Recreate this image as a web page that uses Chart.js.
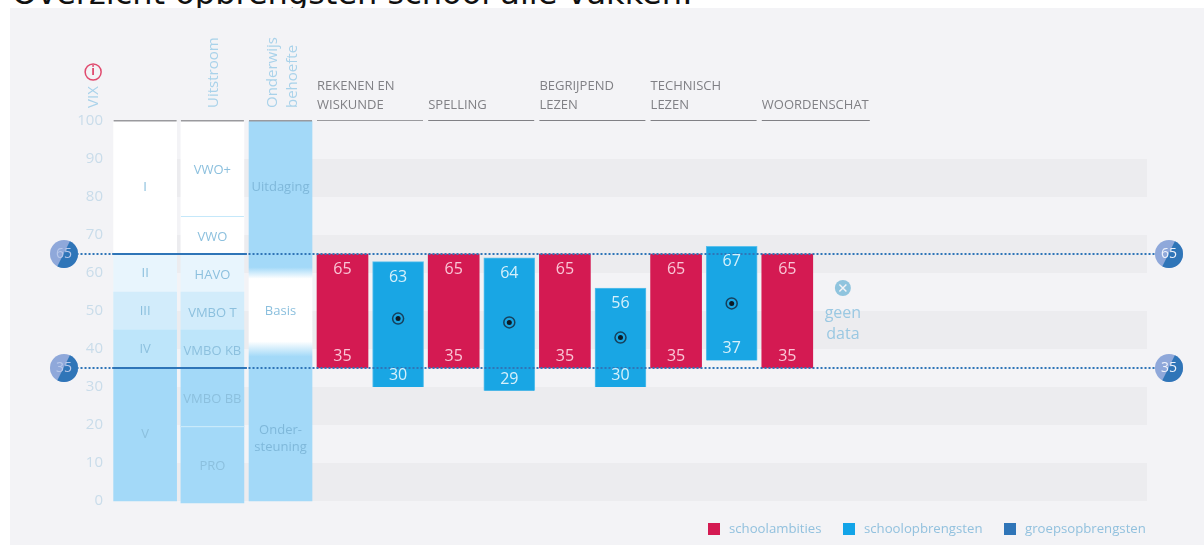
<!DOCTYPE html>
<html lang="nl">
<head>
<meta charset="utf-8">
<title>Overzicht opbrengsten school alle vakken</title>
<style>
  html, body { margin: 0; padding: 0; background: #fff; overflow: hidden; }
  #title {
    position: absolute; left: 12px; top: -26px; white-space: nowrap;
    font: 32px "DejaVu Sans", sans-serif; color: #111; z-index: 0;
  }
  #panel {
    position: absolute; left: 10px; top: 8px; width: 1194px; height: 537px;
    background: #f3f3f6; z-index: 1;
  }
  #wrap { position: absolute; left: 0; top: 0; width: 1204px; height: 545px; z-index: 2; }
</style>
<script src="https://cdn.jsdelivr.net/npm/chart.js@4"></script>
</head>
<body>
<div id="title">Overzicht opbrengsten school alle vakken:</div>
<div id="panel"></div>
<div id="wrap"><canvas id="chart"></canvas></div>
<script>
// ---------------------------------------------------------------------------
// Data
// ---------------------------------------------------------------------------

const yTicks = [0, 10, 20, 30, 40, 50, 60, 70, 80, 90, 100];
const stripeRanges = [[0, 10], [20, 30], [40, 50], [60, 70], [80, 90]];

const vixLabels = ['I', 'II', 'III', 'IV', 'V'];
const vixRanges = [[65, 100], [55, 65], [45, 55], [35, 45], [0, 35]];

const uitstroomLabels = ['VWO+', 'VWO', 'HAVO', 'VMBO T', 'VMBO KB', 'VMBO BB', 'PRO'];
const uitstroomRanges = [[75, 100], [65, 75], [55, 65], [45, 55], [35, 45], [19.7, 35], [-0.5, 19.7]];

const behoefteLabels = [['Uitdaging'], ['Basis'], ['Onder-', 'steuning']];
const behoefteValues = [82.5, 50, 16.4];

const subjects = [
  ['REKENEN EN', 'WISKUNDE'],
  ['SPELLING'],
  ['BEGRIJPEND', 'LEZEN'],
  ['TECHNISCH', 'LEZEN'],
  ['WOORDENSCHAT']
];
const ambitieLow  = [35, 35, 35, 35, 35];
const ambitieHigh = [65, 65, 65, 65, 65];
const opbrengstLow  = [30, 29, 30, 37, null];
const opbrengstHigh = [63, 64, 56, 67, null];
const opbrengstMid  = [48, 47, 43, 52, null];
const groupLines = [65, 35];

// ---------------------------------------------------------------------------
// Colors and layout (x scale unit = one bar slot, first subject bar is slot 0)
// ---------------------------------------------------------------------------

const FONT = '"Open Sans", sans-serif';
const RED = '#d41a52';
const BLUE = '#19a6e4';
const GROUP = '#2f75b8';
const COL_BLUE = '#a3d9f8';
const TEXT_BLUE = '#8cc0de';
const columnSlots = [-3.55, -2.34, -1.115];
const COLUMN_W = 63;
const BAR_W = 51;
const vixColors = ['#ffffff', '#e8f5fd', '#d2ecfb', '#bde5fa', COL_BLUE];
const uitstroomColors = ['#ffffff', '#ffffff', '#e8f5fd', '#d2ecfb', '#bde5fa', COL_BLUE, COL_BLUE];
const legendItems = [
  ['schoolambities', RED, 708],
  ['schoolopbrengsten', '#12a4e8', 843],
  ['groepsopbrengsten', GROUP, 1004]
];

function text(ctx, str, x, y, font, color, align) {
  ctx.font = font;
  ctx.fillStyle = color;
  ctx.textAlign = align || 'center';
  ctx.textBaseline = 'middle';
  ctx.fillText(str, x, y);
}

function rotatedText(ctx, str, x, yBottom, color) {
  ctx.save();
  ctx.translate(x, yBottom);
  ctx.rotate(-Math.PI / 2);
  text(ctx, str, 0, 0, '15px ' + FONT, color, 'left');
  ctx.restore();
}

// half light, half dark marker on the ends of the group lines
function groupBadge(ctx, x, y, label, labelColor) {
  const r = 14;
  ctx.save();
  ctx.beginPath();
  ctx.arc(x, y, r, 0, Math.PI * 2);
  ctx.clip();
  ctx.fillStyle = '#8fa8da';
  ctx.fillRect(x - r, y - r, r * 2, r * 2);
  ctx.fillStyle = GROUP;
  ctx.beginPath();
  ctx.moveTo(x + 7, y - r - 1);
  ctx.lineTo(x + r + 1, y - r - 1);
  ctx.lineTo(x + r + 1, y + r + 1);
  ctx.lineTo(x - 8, y + r + 1);
  ctx.closePath();
  ctx.fill();
  ctx.restore();
  text(ctx, label, x, y, '14px ' + FONT, labelColor);
}

// ---------------------------------------------------------------------------
// Plugins
// ---------------------------------------------------------------------------

const stripesPlugin = {
  id: 'stripes',
  beforeDatasetsDraw(chart) {
    const { ctx, chartArea, scales: { y } } = chart;
    ctx.fillStyle = '#ececef';
    stripeRanges.forEach(r => {
      ctx.fillRect(chartArea.left, y.getPixelForValue(r[1]), chartArea.width, y.getPixelForValue(r[0]) - y.getPixelForValue(r[1]));
    });
  }
};

const labelsPlugin = {
  id: 'labels',
  afterDatasetsDraw(chart) {
    const { ctx, scales: { x, y } } = chart;
    ctx.save();

    // grey rule on top of the columns and the subject headers
    ctx.fillStyle = '#9a9a9e';
    const top = y.getPixelForValue(100);
    columnSlots.forEach(s => ctx.fillRect(x.getPixelForValue(s) - COLUMN_W / 2, top - 1, COLUMN_W, 1.5));
    subjects.forEach((lines, i) => {
      const left = x.getPixelForValue(i * 2) - BAR_W / 2;
      const w = i === 4 ? 108 : 106;
      ctx.fillRect(left, top - 1, w, 1);
      lines.forEach((l, j) => {
        text(ctx, l, left, top - 16 - (lines.length - 1 - j) * 18.5, '13px ' + FONT, '#808085', 'left');
      });
    });

    // dividers inside the uitstroom column
    ctx.fillStyle = '#c5e8fa';
    ctx.fillRect(x.getPixelForValue(columnSlots[1]) - COLUMN_W / 2, y.getPixelForValue(75), COLUMN_W, 1);
    ctx.fillStyle = '#d0edfb';
    ctx.fillRect(x.getPixelForValue(columnSlots[1]) - COLUMN_W / 2, y.getPixelForValue(19.7), COLUMN_W, 1);

    // column captions
    const small = '13px ' + FONT;
    vixLabels.forEach((l, i) => {
      text(ctx, l, x.getPixelForValue(columnSlots[0]), y.getPixelForValue((vixRanges[i][0] + vixRanges[i][1]) / 2), small, TEXT_BLUE);
    });
    uitstroomLabels.forEach((l, i) => {
      text(ctx, l, x.getPixelForValue(columnSlots[1]), y.getPixelForValue((uitstroomRanges[i][0] + uitstroomRanges[i][1]) / 2) + 2, small, TEXT_BLUE);
    });
    behoefteLabels.forEach((lines, i) => {
      lines.forEach((l, j) => {
        const py = y.getPixelForValue(behoefteValues[i]) + (j - (lines.length - 1) / 2) * 17;
        text(ctx, l, x.getPixelForValue(columnSlots[2]), py, small, i === 1 ? '#8cc0de' : '#7fb8da');
      });
    });

    // vertical headers
    rotatedText(ctx, 'VIX', x.getPixelForValue(columnSlots[0]) - 51, 108, '#a9d2ea');
    rotatedText(ctx, 'Uitstroom', x.getPixelForValue(columnSlots[1]) + 1, 108, '#a9d2ea');
    rotatedText(ctx, 'Onderwijs', x.getPixelForValue(columnSlots[2]) - 8, 108, '#a9d2ea');
    rotatedText(ctx, 'behoefte', x.getPixelForValue(columnSlots[2]) + 12, 108, '#a9d2ea');

    // info icon above VIX
    const ix = x.getPixelForValue(columnSlots[0]) - 52;
    ctx.strokeStyle = '#e04a6e';
    ctx.lineWidth = 1.5;
    ctx.beginPath();
    ctx.arc(ix, 72, 8, 0, Math.PI * 2);
    ctx.stroke();
    text(ctx, 'i', ix, 72, 'bold 12px ' + FONT, '#e04a6e');

    // values inside the bars
    [0, 1].forEach(d => {
      chart.getDatasetMeta(d + 3).data.forEach((el, i) => {
        const low = d === 0 ? ambitieLow[i] : opbrengstLow[i];
        const high = d === 0 ? ambitieHigh[i] : opbrengstHigh[i];
        if (low === null) return;
        const color = d === 0 ? '#f9c6d6' : '#d6f0fb';
        text(ctx, String(high), el.x, y.getPixelForValue(high) + 15.5, '16px ' + FONT, color);
        text(ctx, String(low), el.x, y.getPixelForValue(low) - 11.5, '16px ' + FONT, color);
      });
    });

    // no data marker for the last subject
    const gx = x.getPixelForValue(9);
    const gy = 288;
    ctx.fillStyle = '#8fc4de';
    ctx.beginPath();
    ctx.arc(gx, gy, 8, 0, Math.PI * 2);
    ctx.fill();
    ctx.strokeStyle = '#f3f3f6';
    ctx.lineWidth = 1.5;
    ctx.beginPath();
    ctx.moveTo(gx - 3.5, gy - 3.5); ctx.lineTo(gx + 3.5, gy + 3.5);
    ctx.moveTo(gx + 3.5, gy - 3.5); ctx.lineTo(gx - 3.5, gy + 3.5);
    ctx.stroke();
    text(ctx, 'geen', gx, 313, '16px ' + FONT, '#9ac8e2');
    text(ctx, 'data', gx, 334, '16px ' + FONT, '#9ac8e2');

    // group markers
    groupLines.forEach(v => {
      groupBadge(ctx, 64, y.getPixelForValue(v), String(v), '#b8c8ea');
      groupBadge(ctx, 1169, y.getPixelForValue(v), String(v), '#eef2fb');
    });

    // legend
    legendItems.forEach(item => {
      ctx.fillStyle = item[1];
      ctx.fillRect(item[2], 523, 12, 12);
      text(ctx, item[0], item[2] + 21, 529.5, '13.2px ' + FONT, '#92c1de', 'left');
    });

    ctx.restore();
  }
};

// ---------------------------------------------------------------------------
// Chart
// ---------------------------------------------------------------------------

// uitdaging / basis / ondersteuning column fades through white around 65 and 35
function behoefteGradient(context) {
  const { chart } = context;
  if (!chart.chartArea) return COL_BLUE;
  const y = chart.scales.y;
  const g = chart.ctx.createLinearGradient(0, y.getPixelForValue(100), 0, y.getPixelForValue(0));
  [[61.5, COL_BLUE], [58.5, '#ffffff'], [42, '#ffffff'], [38, COL_BLUE]].forEach(s => {
    g.addColorStop((100 - s[0]) / 100, s[1]);
  });
  return g;
}

function columnDataset(slot, ranges, colors) {
  return {
    type: 'bar',
    data: ranges.map(r => ({ x: slot, y: r })),
    backgroundColor: colors,
    barThickness: COLUMN_W,
    grouped: false,
    clip: false,
    order: 5
  };
}

function barDataset(label, lows, highs, color) {
  return {
    type: 'bar',
    label,
    data: lows.map((low, i) => (low === null ? { x: i * 2, y: null } : { x: i * 2 + (color === BLUE ? 1 : 0), y: [low, highs[i]] })),
    backgroundColor: color,
    borderColor: color === BLUE ? '#5cc0ec' : RED,
    borderWidth: color === BLUE ? 1 : 0,
    barThickness: BAR_W,
    grouped: false,
    order: 4
  };
}

const groupDatasets = [];
groupLines.forEach(v => {
  groupDatasets.push({
    type: 'line',
    data: [{ x: -5, y: v }, { x: 14.9, y: v }],
    borderColor: GROUP,
    borderWidth: 2,
    borderDash: [2, 2],
    pointRadius: 0,
    clip: false,
    order: 1
  });
  groupDatasets.push({
    type: 'line',
    data: [{ x: -4.14, y: v }, { x: -1.72, y: v }],
    borderColor: GROUP,
    borderWidth: 2,
    pointRadius: 0,
    clip: false,
    order: 1
  });
});

new Chart(document.getElementById('chart').getContext('2d'), {
  type: 'bar',
  data: {
    datasets: [
      columnDataset(columnSlots[0], vixRanges, vixColors),
      columnDataset(columnSlots[1], uitstroomRanges, uitstroomColors),
      columnDataset(columnSlots[2], [[0, 100]], behoefteGradient),
      barDataset('schoolambities', ambitieLow, ambitieHigh, RED),
      barDataset('schoolopbrengsten', opbrengstLow, opbrengstHigh, BLUE),
      {
        type: 'scatter',
        data: opbrengstMid.map((v, i) => ({ x: i * 2 + 1, y: v })),
        pointRadius: 5.5,
        pointBackgroundColor: 'transparent',
        pointBorderColor: '#17405c',
        pointBorderWidth: 1.5,
        order: 2
      },
      {
        type: 'scatter',
        data: opbrengstMid.map((v, i) => ({ x: i * 2 + 1, y: v })),
        pointRadius: 2.5,
        pointBackgroundColor: '#0d1a24',
        pointBorderWidth: 0,
        order: 2
      }
    ].concat(groupDatasets)
  },
  options: {
    responsive: true,
    maintainAspectRatio: false,
    animation: false,
    events: [],
    layout: { padding: { top: 121, right: 57, bottom: 44, left: 0 } },
    plugins: { legend: { display: false }, tooltip: { enabled: false } },
    scales: {
      x: {
        type: 'linear',
        display: false,
        offset: false,
        min: -4.11,
        max: 14.47
      },
      y: {
        min: 0,
        max: 100,
        grid: { display: false, drawTicks: false },
        border: { display: false },
        afterBuildTicks(scale) { scale.ticks = yTicks.map(v => ({ value: v })); },
        afterFit(scale) { scale.width = 114; },
        ticks: { color: '#c9dcea', padding: 11, font: { family: FONT, size: 15 } }
      }
    }
  },
  plugins: [stripesPlugin, labelsPlugin]
});
</script>
</body>
</html>
